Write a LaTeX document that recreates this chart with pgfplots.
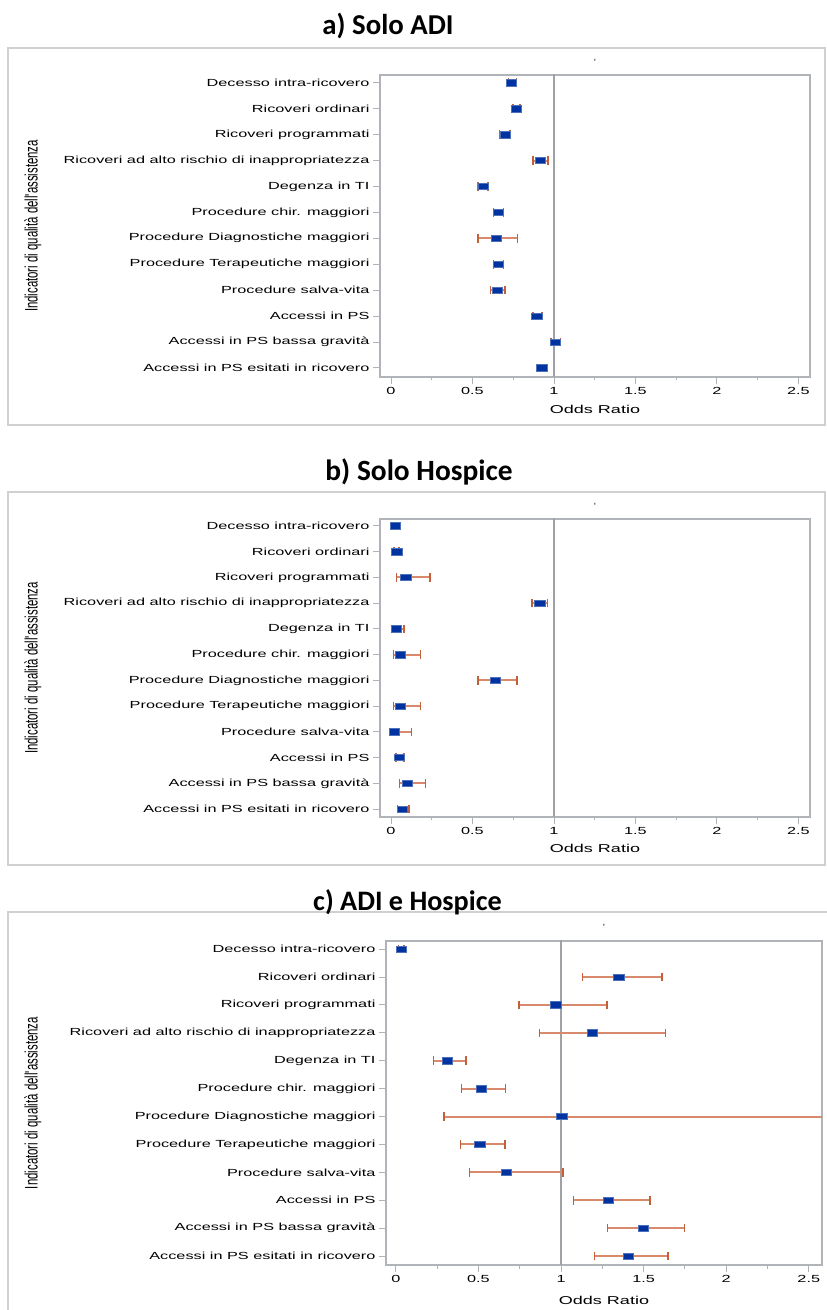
\documentclass[border=0pt]{standalone}
\usepackage{pgfplots}
\usepackage{pgfplotstable}
\usepackage{graphicx}
\pgfplotsset{compat=1.18}
\usepackage{fontspec}
\setmainfont{Liberation Sans}
\newfontfamily\sasfont[FakeStretch=1.58]{Liberation Sans}
\newfontfamily\sasplain{Liberation Sans}
\newfontfamily\titlefont{Carlito}

\definecolor{mblue}{HTML}{0033A0}
\definecolor{mblueedge}{HTML}{4D70BD}
\definecolor{ciline}{HTML}{D98A6C}
\definecolor{cicap}{HTML}{C2603A}
\definecolor{refgray}{HTML}{9EA2A6}
\definecolor{boxgray}{HTML}{B0B4B8}
\definecolor{framegray}{HTML}{D0D0D0}

% y: 12 = top row ... 1 = bottom row
\pgfplotstableread{
y or lo hi
12 0.74 0.72 0.77
11 0.77 0.75 0.79
10 0.70 0.665 0.73
9 0.915 0.87 0.965
8 0.565 0.535 0.595
7 0.66 0.63 0.69
6 0.645 0.535 0.775
5 0.66 0.63 0.69
4 0.65 0.61 0.70
3 0.895 0.87 0.925
2 1.01 0.98 1.04
1 0.925 0.90 0.955
}\dataA

\pgfplotstableread{
y or lo hi
12 0.026 0.01 0.04
11 0.036 0.02 0.05
10 0.09 0.033 0.24
9 0.912 0.867 0.961
8 0.03 0.005 0.078
7 0.058 0.016 0.18
6 0.638 0.534 0.772
5 0.058 0.016 0.18
4 0.02 0.0 0.127
3 0.052 0.03 0.08
2 0.10 0.052 0.211
1 0.071 0.04 0.11
}\dataB

\pgfplotstableread{
y or lo hi
12 0.032 0.016 0.048
11 1.349 1.13 1.61
10 0.968 0.744 1.279
9 1.19 0.869 1.632
8 0.31 0.228 0.426
7 0.515 0.396 0.663
6 1.004 0.291 3.2
5 0.507 0.39 0.659
4 0.667 0.446 1.01
3 1.285 1.075 1.537
2 1.497 1.281 1.747
1 1.406 1.202 1.646
}\dataC

\pgfplotsset{
  sas/.style={
    scale only axis, anchor=south west,
    axis line style={boxgray, line width=1.6pt},
    tick align=outside, tick pos=left,
    major tick length=7pt, minor tick length=3.5pt,
    tick style={boxgray, line width=0.9pt},
    xtick={0,0.5,1,1.5,2,2.5}, xticklabels={0,0.5,1,1.5,2,2.5},
    minor x tick num=1,
    ytick={1,...,12},
    yticklabels={Accessi in PS esitati in ricovero, Accessi in PS bassa gravità, Accessi in PS, Procedure salva-vita, Procedure Terapeutiche maggiori, Procedure Diagnostiche maggiori, Procedure chir. maggiori, Degenza in TI, Ricoveri ad alto rischio di inappropriatezza, Ricoveri programmati, Ricoveri ordinari, Decesso intra-ricovero},
    ticklabel style={font=\sasfont\fontsize{10.3}{12}\selectfont, text=black},
    xlabel={Odds Ratio},
    xlabel style={font=\sasfont\fontsize{11.4}{13}\selectfont, anchor=center},
    ylabel={\scalebox{1}[1.58]{Indicatori di qualità dell'assistenza}},
    ylabel style={font=\sasplain\fontsize{11.4}{13}\selectfont, anchor=center},
  },
  ci/.style={only marks, mark=square*, mark size=3.2pt, line width=2pt,
    mark options={xscale=1.6, fill=mblue, draw=mblueedge, line width=0.5pt},
    error bars/.cd, x dir=both, x explicit,
    error mark=|,
    error bar style={draw=ciline, line width=2pt},
    error mark options={draw=cicap, line width=1.6pt, mark size=4.3pt}},
}

\begin{document}
\begin{tikzpicture}[x=1pt,y=1pt]
\path[use as bounding box] (0,0) rectangle (827,1310);
\draw[framegray, line width=1.3pt] (8,885) rectangle (825,1262);
\draw[framegray, line width=1.3pt] (8,445) rectangle (825,818);
\draw[framegray, line width=1.3pt] (8,-5) -- (8,398) -- (830,398);

\node[anchor=base, font=\titlefont\bfseries\fontsize{28.8}{32}\selectfont] at (388,1275) {a) Solo ADI};
\node[anchor=base, font=\titlefont\bfseries\fontsize{29.4}{32}\selectfont] at (419,829) {b) Solo Hospice};
\node[anchor=base, font=\titlefont\bfseries\fontsize{28.2}{32}\selectfont] at (407.5,399) {c) ADI e Hospice};

\node[font=\sasplain\fontsize{9}{10}\selectfont] at (595,1248) {'};
\node[font=\sasplain\fontsize{9}{10}\selectfont] at (595,804) {'};
\node[font=\sasplain\fontsize{9}{10}\selectfont] at (604,383) {'};

% panel a
\begin{axis}[sas, at={(380pt,933pt)}, width=430pt, height=302pt,
  xmin=-0.0675, xmax=2.571, ymin=0.65, ymax=12.3,
  xlabel style={at={(axis description cs:0.5,-0.106)}},
  ylabel style={at={(axis description cs:-0.807,0.5)}}]
\addplot[refgray, line width=1.8pt] coordinates {(1,0) (1,13)};
\addplot+[ci] table[x=or, y=y, x error plus expr=\thisrow{hi}-\thisrow{or}, x error minus expr=\thisrow{or}-\thisrow{lo}] {\dataA};
\end{axis}

% panel b
\begin{axis}[sas, at={(380pt,493pt)}, width=430pt, height=298pt,
  xmin=-0.0675, xmax=2.571, ymin=0.69, ymax=12.27,
  xlabel style={at={(axis description cs:0.5,-0.107)}},
  ylabel style={at={(axis description cs:-0.807,0.5)}}]
\addplot[refgray, line width=1.8pt] coordinates {(1,0) (1,13)};
\addplot+[ci] table[x=or, y=y, x error plus expr=\thisrow{hi}-\thisrow{or}, x error minus expr=\thisrow{or}-\thisrow{lo}] {\dataB};
\end{axis}

% panel c
\begin{axis}[sas, at={(386pt,45pt)}, width=436pt, height=324pt,
  xmin=-0.06, xmax=2.58, ymin=0.68, ymax=12.29,
  xlabel style={at={(axis description cs:0.5,-0.108)}},
  ylabel style={at={(axis description cs:-0.81,0.5)}}]
\addplot[refgray, line width=1.8pt] coordinates {(1,0) (1,13)};
\addplot+[ci] table[x=or, y=y, x error plus expr=\thisrow{hi}-\thisrow{or}, x error minus expr=\thisrow{or}-\thisrow{lo}] {\dataC};
\end{axis}
\end{tikzpicture}
\end{document}
